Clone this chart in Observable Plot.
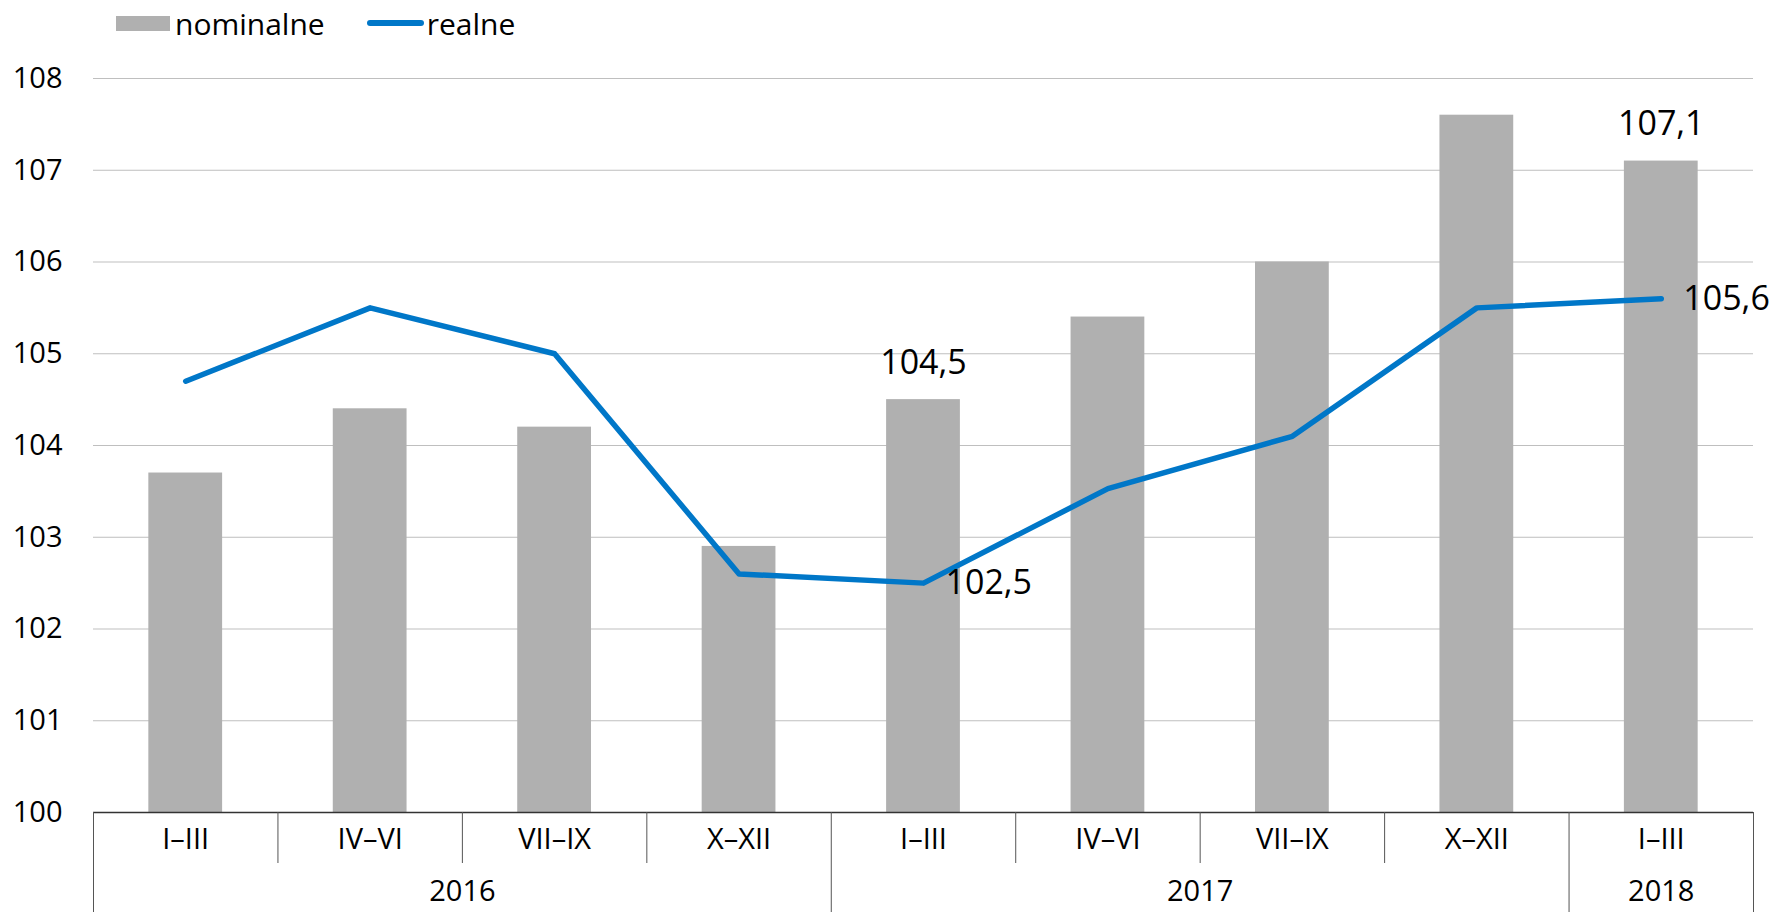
<!DOCTYPE html>
<html>
<head>
<meta charset="utf-8">
<script src="https://cdn.jsdelivr.net/npm/d3@7"></script>
<script src="https://cdn.jsdelivr.net/npm/@observablehq/plot@0.6"></script>
<style>
  html, body { margin: 0; padding: 0; background: #fff; }
  body { width: 1780px; height: 912px; overflow: hidden; font-family: "Open Sans", sans-serif; }
  #legend { height: 46px; display: flex; align-items: center; padding-left: 116px; font-size: 30px; color: #000; box-sizing: border-box; }
  .sw-bar { width: 54px; height: 15px; background: #b0b0b0; margin-right: 5px; }
  .sw-line { width: 57px; height: 6px; background: #0077c8; border-radius: 3px; margin-left: 42px; margin-right: 3px; }
</style>
</head>
<body>
<div id="legend">
  <span class="sw-bar"></span><span>nominalne</span>
  <span class="sw-line"></span><span>realne</span>
</div>
<div id="chart"></div>
<script>
const quarters = ["I–III", "IV–VI", "VII–IX", "X–XII", "I–III", "IV–VI", "VII–IX", "X–XII", "I–III"];
const years = ["2016", "2017", "2018"];
const yearFirst = [0, 4, 8];
const yearLast = [3, 7, 8];
const nominal = [103.7, 104.4, 104.2, 102.9, 104.5, 105.4, 106.0, 107.6, 107.1];
const real = [104.7, 105.5, 105.0, 102.6, 102.5, 103.53, 104.1, 105.5, 105.6];
const labeled = [4, 8];
const yTicks = [100, 101, 102, 103, 104, 105, 106, 107, 108];

const rows = quarters.map((q, i) => ({i, q, nominal: nominal[i], real: real[i]}));
const fmt = v => v.toFixed(1).replace(".", ",");

const yearCenters = years.map((y, k) => (yearFirst[k] + yearLast[k]) / 2);
const yearBounds = [yearFirst[0] - 0.5, ...yearLast.map(l => l + 0.5)];
const quarterBounds = [];
years.forEach((y, k) => { for (let i = yearFirst[k]; i < yearLast[k]; i++) quarterBounds.push(i + 0.5); });

const halfBar = 0.2;

const chart = Plot.plot({
  width: 1780,
  height: 866,
  marginTop: 32,
  marginBottom: 100,
  marginLeft: 93,
  marginRight: 27,
  style: { fontFamily: "Open Sans, sans-serif", fontSize: "29px", color: "#000", background: "#fff" },
  x: { type: "linear", domain: [-0.5, quarters.length - 0.5], axis: null, label: null },
  y: { domain: [100, 108], axis: null, label: null },
  marks: [
    Plot.ruleY(yTicks.slice(1), { stroke: "#bfbfbf", strokeWidth: 1 }),
    Plot.rectY(rows, { x1: d => d.i - halfBar, x2: d => d.i + halfBar, y1: 100, y2: "nominal", fill: "#b0b0b0" }),
    Plot.ruleY([100], { stroke: "#333", strokeWidth: 1.5 }),
    Plot.axisY(yTicks, { anchor: "left", tickSize: 0, tickPadding: 31, fontSize: 29, label: null, tickFormat: d => String(d) }),
    Plot.axisX(rows.map(d => d.i), { anchor: "bottom", tickSize: 0, tickPadding: 16, tickFormat: i => quarters[i], fontSize: 29, label: null }),
    Plot.axisX(yearCenters, { anchor: "bottom", tickSize: 0, tickPadding: 68, tickFormat: d => years[yearCenters.indexOf(d)], fontSize: 29, label: null }),
    Plot.axisX(quarterBounds, { anchor: "bottom", tickSize: 51, tickFormat: () => "", stroke: "#555", strokeWidth: 1, label: null }),
    Plot.axisX(yearBounds, { anchor: "bottom", tickSize: 100, tickFormat: () => "", stroke: "#555", strokeWidth: 1, label: null }),
    Plot.line(rows, { x: "i", y: "real", stroke: "#0077c8", strokeWidth: 5.5, strokeLinecap: "round", strokeLinejoin: "round" }),
    Plot.text(rows.filter(d => labeled.includes(d.i)), { x: "i", y: "nominal", text: d => fmt(d.nominal), dy: -37, fontSize: 34, fill: "#000" }),
    Plot.text(rows.filter(d => labeled.includes(d.i)), { x: "i", y: "real", text: d => fmt(d.real), dx: 22, textAnchor: "start", fontSize: 34, fill: "#000" })
  ]
});
document.getElementById("chart").appendChild(chart);
</script>
</body>
</html>
